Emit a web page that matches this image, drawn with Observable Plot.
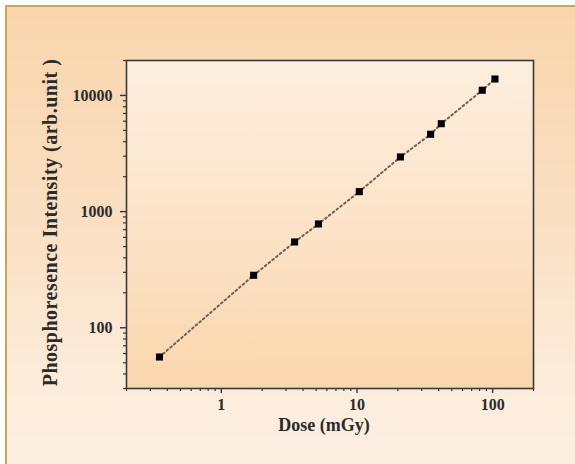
<!DOCTYPE html>
<html>
<head>
<meta charset="utf-8">
<script src="https://cdn.jsdelivr.net/npm/d3@7"></script>
<script src="https://cdn.jsdelivr.net/npm/@observablehq/plot@0.6"></script>
<style>
  html, body { margin: 0; padding: 0; width: 575px; height: 464px; overflow: hidden; background: #fff; }
  #box { position: absolute; left: 5px; top: 5px; width: 580px; height: 470px;
         border-left: 2px solid #c9a45c; border-top: 2px solid #c9a45c;
         background: linear-gradient(to bottom, #f9d5ac 0%, #fadfc2 45%, #fcecdb 80%, #fcf0e3 100%); }
  #chart { position: absolute; left: 0; top: 0; }
  .ylab text { letter-spacing: 0.5px; }
</style>
</head>
<body>
<div id="box"></div>
<div id="chart"></div>
<script>
const doses = [0.35, 1.73, 3.47, 5.2, 10.4, 20.9, 34.9, 41.8, 83.8, 104];
const intensities = [56, 283, 548, 783, 1486, 2955, 4634, 5715, 11090, 13860];
const xTicks = [1, 10, 100];
const yTicks = [100, 1000, 10000];
const xMinorTicks = [0.2, 0.3, 0.4, 0.5, 0.6, 0.7, 0.8, 0.9, 2, 3, 4, 5, 6, 7, 8, 9, 20, 30, 40, 50, 60, 70, 80, 90, 200];
const yMinorTicks = [30, 40, 50, 60, 70, 80, 90, 200, 300, 400, 500, 600, 700, 800, 900, 2000, 3000, 4000, 5000, 6000, 7000, 8000, 9000, 20000];
const xLabel = "Dose (mGy)";
const yLabel = "Phosphoresence Intensity (arb.unit )";

const data = doses.map((d, i) => ({dose: d, intensity: intensities[i]}));

const plot = Plot.plot({
  width: 575,
  height: 464,
  marginLeft: 126,
  marginRight: 42,
  marginTop: 60,
  marginBottom: 76,
  style: {background: "transparent", fontFamily: "'Liberation Serif', serif", fontWeight: "bold", fontSize: "16px", color: "#2b2b2b"},
  x: {type: "log", domain: [0.2, 200]},
  y: {type: "log", domain: [30, 20000]},
  marks: [
    Plot.frame({fill: "url(#plotbg)", stroke: "none"}),
    Plot.axisX(xMinorTicks, {tickSize: 3, text: null, stroke: "#333", strokeWidth: 1.2, label: null}),
    Plot.axisY(yMinorTicks, {tickSize: 3, text: null, stroke: "#333", strokeWidth: 1.2, label: null}),
    Plot.axisX(xTicks, {tickSize: 5, tickPadding: 5, tickFormat: d => String(d), fontSize: 16, stroke: "#333", strokeWidth: 1.4, fill: "#2b2b2b", label: null}),
    Plot.axisY(yTicks, {tickSize: 6, tickPadding: 8, tickFormat: d => String(d), fontSize: 16, stroke: "#333", strokeWidth: 1.4, fill: "#2b2b2b", label: null}),
    Plot.line(data, {x: "dose", y: "intensity", stroke: "#6e6258", strokeWidth: 2, strokeDasharray: "1.8,3"}),
    Plot.dot(data, {x: "dose", y: "intensity", symbol: "square", r: 4, fill: "#000", stroke: "none"}),
    Plot.frame({stroke: "#3a3a3a", strokeWidth: 1.6}),
    Plot.text([xLabel], {frameAnchor: "bottom", dy: 42, dx: -6, fontSize: 18, textAnchor: "middle", fill: "#2b2b2b"}),
    Plot.text([yLabel], {frameAnchor: "left", dx: -76, dy: -2, rotate: -90, fontSize: 20, textAnchor: "middle", fill: "#2b2b2b", className: "ylab"})
  ]
});

const ns = "http://www.w3.org/2000/svg";
const defs = document.createElementNS(ns, "defs");
defs.innerHTML = `<linearGradient id="plotbg" x1="0" y1="0" x2="0" y2="1">
  <stop offset="0" stop-color="#fdeedd"/>
  <stop offset="0.5" stop-color="#fce3c8"/>
  <stop offset="1" stop-color="#fad6ad"/>
</linearGradient>`;
plot.insertBefore(defs, plot.firstChild);
document.getElementById("chart").appendChild(plot);
</script>
</body>
</html>
